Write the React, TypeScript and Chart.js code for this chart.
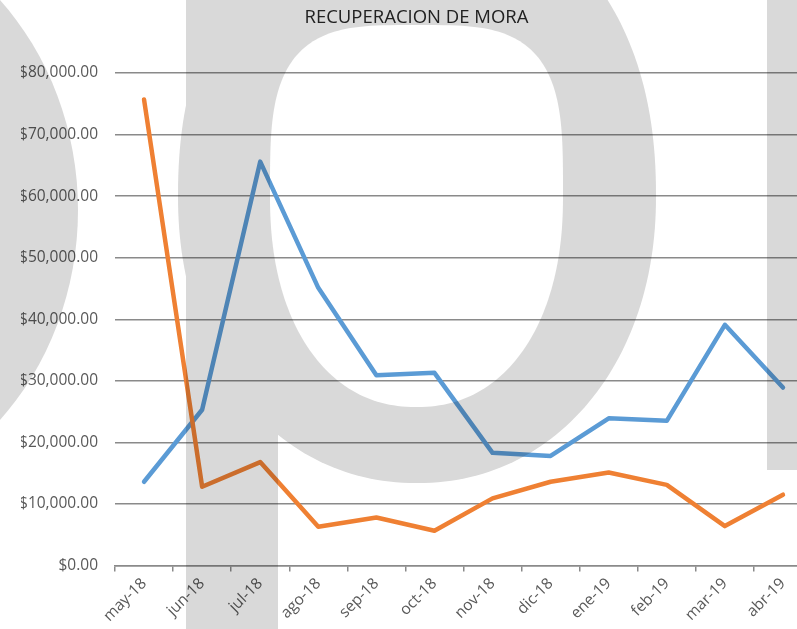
import { useEffect, useRef } from "react";
import { Chart, registerables } from "chart.js";

Chart.register(...registerables);

// ---- data ----
const months = [
  "may-18", "jun-18", "jul-18", "ago-18", "sep-18", "oct-18",
  "nov-18", "dic-18", "ene-19", "feb-19", "mar-19", "abr-19",
];
const serie1 = [13600, 25300, 65600, 45100, 30900, 31300, 18300, 17800, 23900, 23500, 39100, 28900];
const serie2 = [75700, 12800, 16800, 6300, 7800, 5650, 10900, 13600, 15100, 13100, 6400, 11500];
const yMin = 0;
const yMax = 80000;
const yStep = 10000;
const titleText = "RECUPERACION DE MORA";

const CANVAS_W = 838;
const CANVAS_H = 629;
const FONT = "'Open Sans', 'Noto Sans', sans-serif";

// superellipse-ish loop path helper for decorative background shapes
function blob(
  o: CanvasRenderingContext2D,
  cx: number, cy: number, a: number, bTop: number, bBot: number, nTop: number, nBot: number,
) {
  const steps = 240;
  for (let i = 0; i <= steps; i++) {
    const t = (i / steps) * Math.PI * 2;
    const c = Math.cos(t);
    const s = Math.sin(t);
    const n = s < 0 ? nTop : nBot;
    const b = s < 0 ? bTop : bBot;
    const x = cx + a * Math.sign(c) * Math.pow(Math.abs(c), 2 / n);
    const y = cy + b * Math.sign(s) * Math.pow(Math.abs(s), 2 / n);
    if (i === 0) o.moveTo(x, y);
    else o.lineTo(x, y);
  }
  o.closePath();
}

// decorative gray background letters (multiplied over the chart)
const watermarkPlugin = {
  id: "watermark",
  beforeDraw(chart: any) {
    const ctx = chart.ctx;
    ctx.save();
    ctx.fillStyle = "#ffffff";
    ctx.fillRect(0, 0, chart.width, chart.height);
    ctx.restore();
  },
  afterDraw(chart: any) {
    const { ctx, width, height } = chart;
    const off = document.createElement("canvas");
    off.width = width;
    off.height = height;
    const o = off.getContext("2d");
    if (!o) return;
    o.fillStyle = "#d9d9d9";
    // left partial letter
    o.beginPath();
    o.ellipse(-195, 210, 273, 300, 0, 0, Math.PI * 2);
    o.fill();
    // "p": outer bowl + stem
    o.beginPath();
    blob(o, 417, 196, 239, 300, 287, 2.2, 2.1);
    o.fill();
    o.fillRect(186, -10, 92, height + 20);
    // counter of "p"
    o.globalCompositeOperation = "destination-out";
    o.beginPath();
    blob(o, 416.5, 196, 146.5, 171, 211, 3.5, 2.2);
    o.fill();
    o.globalCompositeOperation = "source-over";
    // "l"
    o.fillRect(767, -10, 60, 480);
    ctx.save();
    ctx.globalCompositeOperation = "multiply";
    ctx.drawImage(off, 0, 0);
    ctx.restore();
  },
};

export default function App() {
  const ref = useRef<HTMLCanvasElement | null>(null);

  useEffect(() => {
    if (!ref.current) return;
    const chart = new Chart(ref.current, {
      type: "line",
      data: {
        labels: months,
        datasets: [
          {
            label: "Serie 2",
            data: serie2,
            borderColor: "#ef8033",
            backgroundColor: "#ef8033",
            borderWidth: 4.5,
            pointRadius: 0,
            borderCapStyle: "round",
            borderJoinStyle: "round",
            tension: 0,
            order: 0,
          },
          {
            label: "Serie 1",
            data: serie1,
            borderColor: "#5b9bd5",
            backgroundColor: "#5b9bd5",
            borderWidth: 4.5,
            pointRadius: 0,
            borderCapStyle: "round",
            borderJoinStyle: "round",
            tension: 0,
            order: 1,
          },
        ],
      },
      options: {
        responsive: false,
        animation: false,
        layout: { padding: { left: 21, right: 26, top: 0, bottom: 0 } },
        plugins: {
          legend: { display: false },
          tooltip: { enabled: false },
          title: {
            display: true,
            text: titleText,
            color: "#262626",
            font: { family: FONT, size: 18.5, weight: "normal", lineHeight: 1.2 },
            padding: { top: 6.6, bottom: 44.2 },
          },
        },
        scales: {
          x: {
            offset: true,
            grid: {
              offset: true,
              drawOnChartArea: false,
              drawTicks: true,
              tickLength: 6,
              color: "#8a8a8a",
              lineWidth: 1.5,
            },
            border: { display: true, color: "#8a8a8a", width: 1.5 },
            ticks: {
              minRotation: 45,
              maxRotation: 45,
              autoSkip: false,
              color: "#595959",
              padding: 3,
              font: { family: FONT, size: 15.5 },
            },
            afterFit(scale: any) {
              scale.height = 63.5;
            },
          },
          y: {
            min: yMin,
            max: yMax,
            ticks: {
              stepSize: yStep,
              color: "#595959",
              padding: 17,
              font: { family: FONT, size: 15.5 },
              callback: (v: any) =>
                "$" + Number(v).toLocaleString("en-US", { minimumFractionDigits: 2, maximumFractionDigits: 2 }),
            },
            grid: { color: "#8a8a8a", lineWidth: 1.5, drawTicks: false },
            border: { display: false },
            afterFit(scale: any) {
              scale.width = 94;
            },
          },
        },
      },
      plugins: [watermarkPlugin],
    });
    return () => chart.destroy();
  }, []);

  return (
    <div
      style={{
        position: "fixed",
        left: 0,
        top: 0,
        width: 797,
        height: 629,
        overflow: "hidden",
        background: "#ffffff",
      }}
    >
      <canvas ref={ref} width={CANVAS_W} height={CANVAS_H} style={{ display: "block" }} />
    </div>
  );
}
